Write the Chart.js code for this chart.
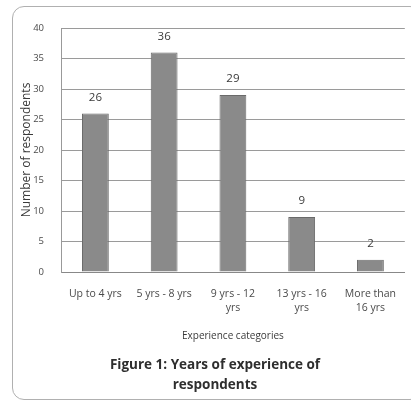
<!DOCTYPE html>
<html><head><meta charset="utf-8">
<script src="https://cdn.jsdelivr.net/npm/chart.js@4"></script>
<style>
html,body{margin:0;padding:0;background:#fff;}
#wrap{position:relative;width:411px;height:406px;overflow:hidden;}
#frame{position:absolute;left:12px;top:6px;width:410px;height:394px;border:1px solid #b0b0b0;border-radius:12px;box-sizing:border-box;}
canvas{position:absolute;left:0;top:0;}
</style></head><body>
<div id="wrap"><div id="frame"></div><canvas id="c" width="411" height="406"></canvas></div>
<script>
const categories = ["Up to 4 yrs", "5 yrs - 8 yrs", ["9 yrs - 12", "yrs"], ["13 yrs - 16", "yrs"], ["More than", "16 yrs"]];
const respondents = [26, 36, 29, 9, 2];
const yTicks = [0, 5, 10, 15, 20, 25, 30, 35, 40];

const FONT = '"Open Sans", sans-serif';

const labelPlugin = {
  id: 'valLabels',
  afterDatasetsDraw(chart) {
    const ctx = chart.ctx;
    const meta = chart.getDatasetMeta(0);
    ctx.save();
    ctx.font = '11.5px ' + FONT;
    ctx.fillStyle = '#3a3a3a';
    ctx.textAlign = 'center';
    ctx.textBaseline = 'middle';
    meta.data.forEach((bar, i) => {
      ctx.fillText(String(respondents[i]), bar.x, bar.y - 16);
    });
    ctx.restore();
  }
};

new Chart(document.getElementById('c'), {
  type: 'bar',
  data: {
    labels: categories,
    datasets: [{
      data: respondents,
      backgroundColor: '#8a8a8a',
      borderColor: '#6a6a6a',
      borderWidth: 1,
      barPercentage: 0.39,
      categoryPercentage: 1.0
    }]
  },
  options: {
    responsive: false,
    animation: false,
    layout: { padding: { left: 19, right: 0, top: 28, bottom: 11 } },
    plugins: {
      legend: { display: false },
      tooltip: { enabled: false },
      title: {
        display: true,
        position: 'bottom',
        text: ['Figure 1: Years of experience of', 'respondents'],
        color: '#2e2e2e',
        font: { family: FONT, size: 13.5, weight: 'bold', lineHeight: '20px' },
        padding: { top: 13, bottom: 0 }
      }
    },
    scales: {
      x: {
        grid: { display: false, drawTicks: false, tickLength: 0 },
        border: { display: true, color: '#888' },
        ticks: {
          color: '#4a4a4a',
          font: { family: FONT, size: 10.5, lineHeight: '14px' },
          maxRotation: 0, autoSkip: false, padding: 15
        },
        title: {
          display: true, text: 'Experience categories', color: '#3a3a3a',
          font: { family: FONT, size: 10, lineHeight: '11px' },
          padding: { top: 1, bottom: 0 }
        }
      },
      y: {
        min: 0, max: 40,
        afterBuildTicks(axis) { axis.ticks = yTicks.map(v => ({ value: v })); },
        afterFit(axis) { axis.width = 42; },
        grid: { color: '#9a9a9a', lineWidth: 1, drawTicks: false, tickLength: 0 },
        border: { display: true, color: '#999' },
        ticks: {
          color: '#4a4a4a',
          font: { family: FONT, size: 9.5 },
          padding: 17
        },
        title: {
          display: true, text: 'Number of respondents', color: '#3a3a3a',
          font: { family: FONT, size: 12 },
          padding: { top: 0, bottom: 2 }
        }
      }
    }
  },
  plugins: [labelPlugin]
});
</script>
</body></html>
